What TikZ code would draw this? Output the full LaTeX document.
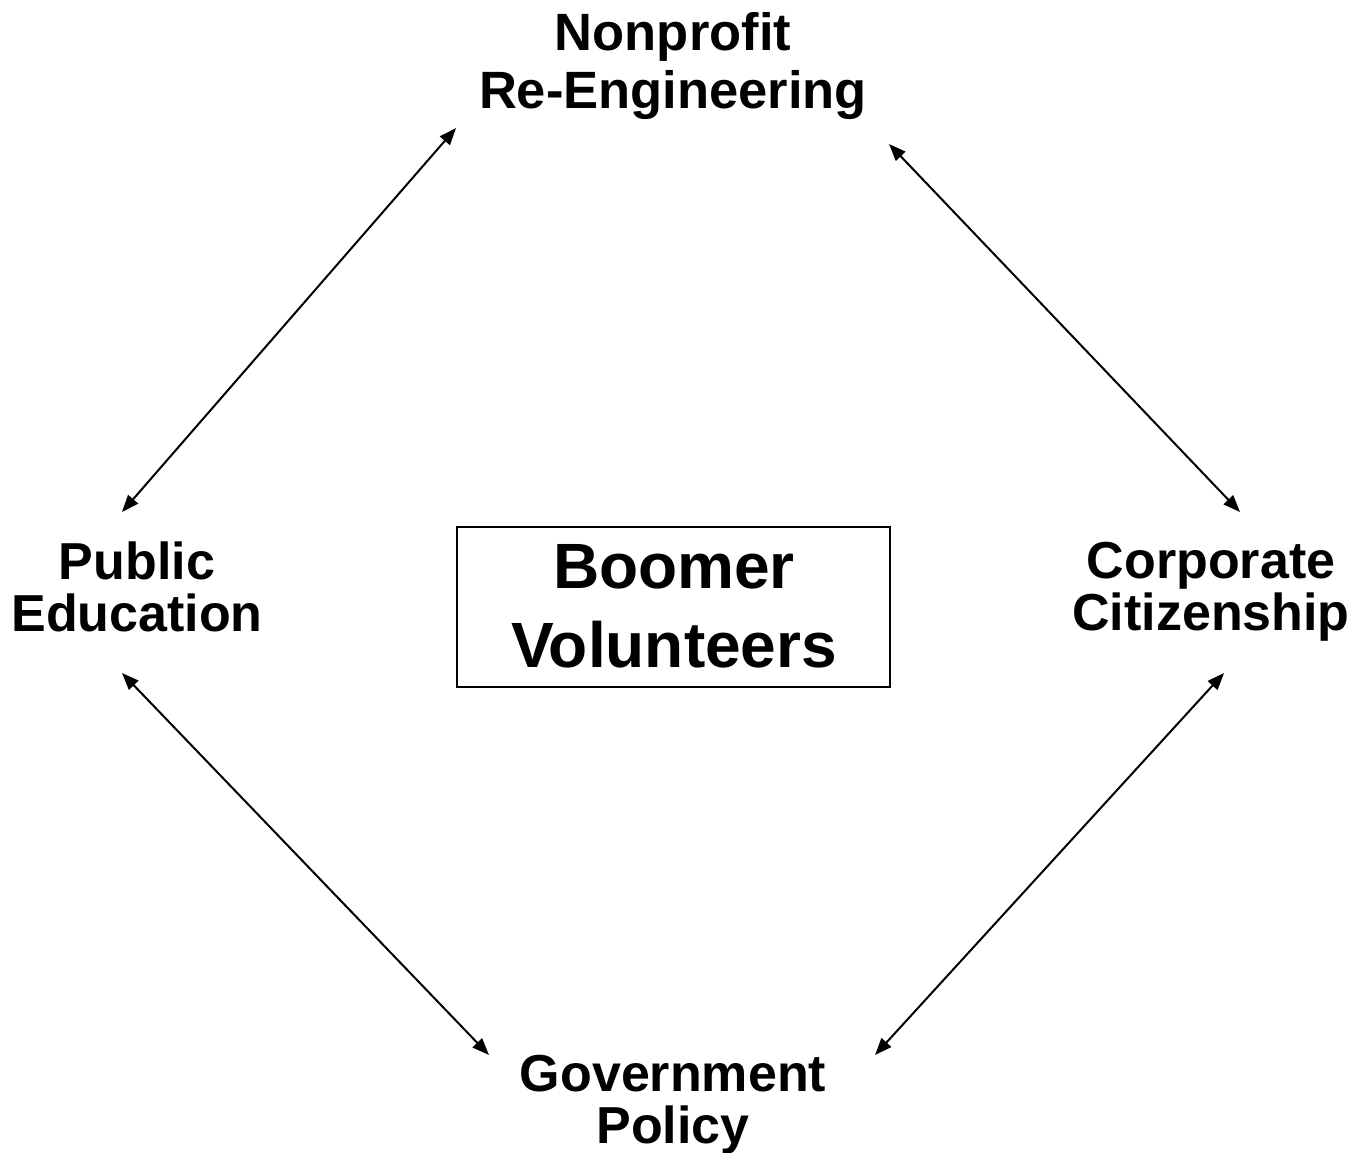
\documentclass[tikz,border=0pt]{standalone}
\usepackage{fontspec}
\setmainfont{Liberation Sans}
\usetikzlibrary{arrows.meta}
\begin{document}
\begin{tikzpicture}[x=1pt,y=-1pt,
  lbl/.style={font=\fontsize{52}{52}\selectfont\bfseries, align=center, inner sep=0pt, anchor=base},
  conn/.style={line width=2pt, {Triangle[length=17pt,width=13pt]}-{Triangle[length=17pt,width=13pt]}}]
\useasboundingbox (0,0) rectangle (1367,1152);
\fill[white] (0,0) rectangle (1367,1152);
\node[lbl, font=\fontsize{52.5}{58}\selectfont\bfseries] (np) at (673,108) {Nonprofit\\Re-Engineering};
\node[lbl] (pe) at (137,631) {Public\\Education};
\node[lbl] (cc) at (1211,630) {Corporate\\Citizenship};
\node[lbl] (gp) at (673,1143) {Government\\Policy};
\node[draw, line width=2pt, minimum width=433pt, minimum height=160pt, inner sep=0pt] (bv) at (673.5,607) {};
\node[align=center, inner sep=0pt, anchor=base, font=\fontsize{64}{79}\selectfont\bfseries] (bvt) at (674,667) {Boomer\\Volunteers};
\coordinate (npL) at (456,128);
\coordinate (npR) at (889,144);
\coordinate (peT) at (122,512);
\coordinate (peB) at (122,673);
\coordinate (ccT) at (1240,512);
\coordinate (ccB) at (1224,673);
\coordinate (gpL) at (489,1055);
\coordinate (gpR) at (875,1055);
\draw[conn] (peT) -- (npL);
\draw[conn] (npR) -- (ccT);
\draw[conn] (peB) -- (gpL);
\draw[conn] (ccB) -- (gpR);
\end{tikzpicture}
\end{document}
